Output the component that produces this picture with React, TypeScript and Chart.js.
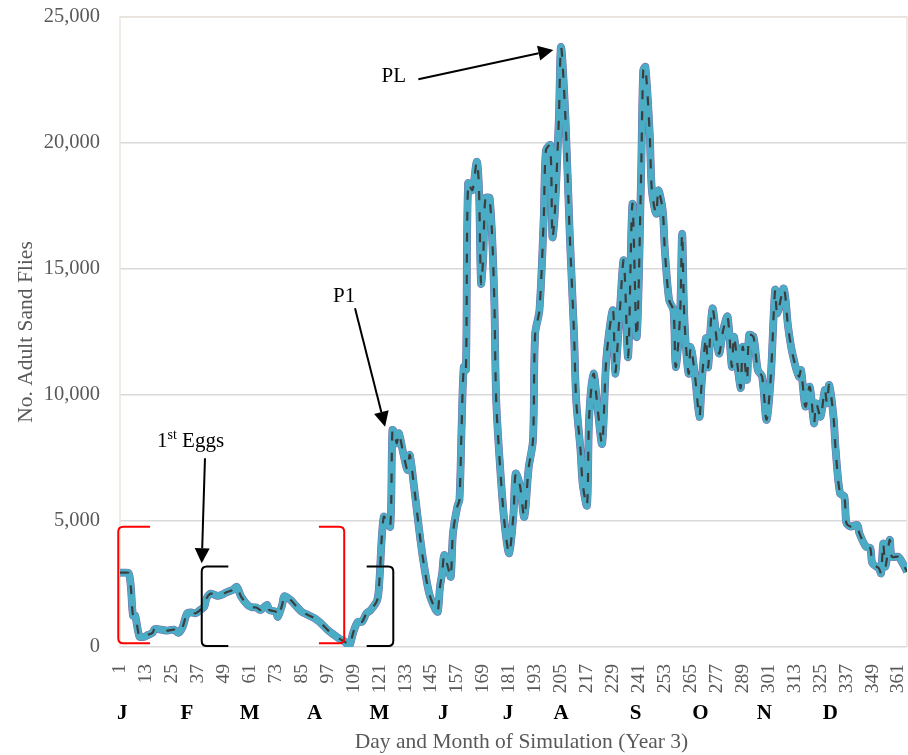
import React, { useEffect, useRef } from "react";
import { Chart, registerables } from "chart.js";

Chart.register(...registerables);

// ---- data ----
const days = [
  1, 3, 5, 6, 7, 8, 10, 12, 14, 16, 17, 20, 23, 26, 28, 30, 32, 34, 36, 38, 40, 41, 43, 46, 48, 50,
  53, 55, 57, 60, 62, 64, 66, 69, 70, 73, 74, 76, 77, 80, 82, 85, 88, 91, 94, 97, 100, 103, 105, 107,
  109, 111, 113, 115, 117, 120, 121, 122, 123, 124, 126, 127, 128, 129, 130, 132, 134, 135, 137, 139,
  141, 144, 147, 148, 149, 150, 151, 153, 154, 155, 157, 158, 159, 160, 161, 162, 164, 166, 167, 168,
  169, 170, 172, 174, 175, 177, 179, 181, 183, 184, 186, 188, 190, 192, 193, 195, 197, 198, 200, 201,
  202, 204, 205, 207, 209, 211, 212, 214, 215, 217, 218, 220, 222, 224, 226, 229, 230, 232, 234, 236,
  238, 240, 242, 243, 244, 246, 247, 249, 250, 252, 253, 255, 257, 258, 260, 261, 262, 264, 265, 267,
  269, 270, 272, 273, 275, 278, 280, 282, 284, 285, 288, 289, 291, 292, 294, 296, 298, 300, 302, 304,
  305, 308, 310, 312, 315, 316, 318, 320, 322, 323, 325, 327, 328, 329, 331, 332, 334, 336, 337, 339,
  342, 343, 346, 348, 349, 352, 353, 354, 355, 357, 358, 361, 363, 365,
];
const adults = [
  2950, 2950, 2930, 2400, 1250, 1250, 420, 400, 480, 560, 710, 690, 650, 690, 560, 800, 1330, 1370, 1340, 1460, 1600, 1930, 2120, 2030, 2070, 2160,
  2260, 2390, 2000, 1670, 1580, 1570, 1470, 1670, 1470, 1400, 1200, 1670, 2020, 1860, 1670, 1400, 1270, 1140, 940, 680, 480, 300, 210, 40,
  610, 1000, 1000, 1340, 1470, 1870, 2660, 4250, 5170, 5040, 4780, 8610, 8480, 8080, 8480, 7690, 7020, 7620, 6360, 4910,
  3580, 2130, 1470, 1400, 2390, 2920, 3650, 3060, 2790, 4510, 5570, 5830, 8740, 11120, 11000, 18400, 18130, 19260, 18270, 14430,
  15490, 17800, 17800, 14170, 9800, 6890, 4780, 3720, 5300, 6880, 6400, 5160, 7100, 8200, 12430, 13360, 17060, 19710, 19910, 16270,
  17060, 21030, 23810, 21030, 16400, 12430, 9790, 7810, 6480, 5620, 9130, 10850, 9390, 8070, 11510, 13360, 10850, 13090, 15340, 11510,
  17590, 12300, 18650, 22880, 23020, 20370, 18120, 17190, 18120, 17330, 15740, 13760, 13360, 11110, 13090, 16400, 13090, 10850, 11900, 10710,
  9130, 10450, 12250, 11100, 13440, 11650, 12580, 13110, 11120, 12310, 10270, 11920, 10600, 12380, 12300, 10990, 10730, 9010, 10730, 14170,
  13240, 14230, 12710, 11650, 10730, 10990, 9540, 10330, 8880, 9670, 9140, 10200, 9670, 10400, 9140, 7820, 6100, 5970, 4910, 4780,
  4840, 4510, 3980, 3920, 3320, 3120, 2920, 4110, 3190, 4250, 3580, 3580, 3320, 2990,
];

const xTickDays = [1, 13, 25, 37, 49, 61, 73, 85, 97, 109, 121, 133, 145, 157, 169, 181, 193, 205, 217, 229, 241, 253, 265, 277, 289, 301, 313, 325, 337, 349, 361];
const yTickValues = [0, 5000, 10000, 15000, 20000, 25000];
const monthLetters = ["J", "F", "M", "A", "M", "J", "J", "A", "S", "O", "N", "D"];
const monthDays = [2, 32, 61, 91, 121, 150.5, 180.5, 205, 239.5, 269.5, 299, 329.5];

const xTitle = "Day and Month of Simulation (Year 3)";
const yTitle = "No. Adult Sand Flies";

// annotations in data coordinates: [edgeDay, armDay, topValue, bottomValue]
const redBrackets = [
  [0.2, 14.9, 4770, 150],
  [104.7, 93, 4770, 150],
];
const blackBrackets = [
  [38.8, 51.1, 3190, 40],
  [127.4, 115.1, 3190, 40],
];
// arrows: [fromDay, fromValue, toDay, toValue]
const arrows = [
  [40.3, 7490, 38.8, 3320],
  [109.7, 13440, 123.6, 8740],
  [139, 22530, 201.4, 23690],
];
// labels: [text, leftDay, baselineValue]
const labels: [string, number, number][] = [
  ["P1", 99.5, 13690],
  ["PL", 122, 22440],
];
const eggsLabel = { main: "1", sup: "st", rest: " Eggs", day: 18.1, value: 7940 };

const SERIF = "'Liberation Serif', 'Times New Roman', Times, serif";
const GREY = "#595959";

const annotPlugin = {
  id: "annot",
  beforeDatasetsDraw(chart: any) {
    const { ctx, chartArea } = chart;
    ctx.save();
    ctx.strokeStyle = "#ebe6dd";
    ctx.lineWidth = 1.5;
    ctx.beginPath();
    ctx.moveTo(chartArea.left, chartArea.bottom);
    ctx.lineTo(chartArea.left, chartArea.top);
    ctx.lineTo(chartArea.right, chartArea.top);
    ctx.lineTo(chartArea.right, chartArea.bottom);
    ctx.stroke();
    ctx.restore();
  },
  afterDatasetsDraw(chart: any) {
    const { ctx } = chart;
    const xs = chart.scales.x;
    const ys = chart.scales.y;
    const X = (v: number) => xs.getPixelForValue(v);
    const Y = (v: number) => ys.getPixelForValue(v);
    ctx.save();
    const bracket = (b: number[], color: string) => {
      const x = X(b[0]);
      const ax = X(b[1]);
      const t = Y(b[2]);
      const bt = Y(b[3]);
      const dir = ax > x ? 1 : -1;
      const r = 5;
      ctx.strokeStyle = color;
      ctx.lineWidth = 2;
      ctx.beginPath();
      ctx.moveTo(ax, t);
      ctx.lineTo(x + dir * r, t);
      ctx.quadraticCurveTo(x, t, x, t + r);
      ctx.lineTo(x, bt - r);
      ctx.quadraticCurveTo(x, bt, x + dir * r, bt);
      ctx.lineTo(ax, bt);
      ctx.stroke();
    };
    redBrackets.forEach((b) => bracket(b, "#ff0000"));
    blackBrackets.forEach((b) => bracket(b, "#000000"));

    arrows.forEach((a) => {
      const x1 = X(a[0]), y1 = Y(a[1]), x2 = X(a[2]), y2 = Y(a[3]);
      const ang = Math.atan2(y2 - y1, x2 - x1);
      const hl = 15, hw = 7.5;
      const bx = x2 - hl * Math.cos(ang), by = y2 - hl * Math.sin(ang);
      ctx.strokeStyle = "#000";
      ctx.lineWidth = 2;
      ctx.beginPath();
      ctx.moveTo(x1, y1);
      ctx.lineTo(bx, by);
      ctx.stroke();
      ctx.fillStyle = "#000";
      ctx.beginPath();
      ctx.moveTo(x2, y2);
      ctx.lineTo(bx + hw * Math.sin(ang), by - hw * Math.cos(ang));
      ctx.lineTo(bx - hw * Math.sin(ang), by + hw * Math.cos(ang));
      ctx.closePath();
      ctx.fill();
    });

    ctx.fillStyle = "#000";
    ctx.textBaseline = "alphabetic";
    ctx.textAlign = "left";
    ctx.font = `21px ${SERIF}`;
    labels.forEach((l) => ctx.fillText(l[0], X(l[1]), Y(l[2])));

    let ex = X(eggsLabel.day);
    const ey = Y(eggsLabel.value);
    ctx.font = `21px ${SERIF}`;
    ctx.fillText(eggsLabel.main, ex, ey);
    ex += ctx.measureText(eggsLabel.main).width;
    ctx.font = `14px ${SERIF}`;
    ctx.fillText(eggsLabel.sup, ex, ey - 8);
    ex += ctx.measureText(eggsLabel.sup).width;
    ctx.font = `21px ${SERIF}`;
    ctx.fillText(eggsLabel.rest, ex, ey);
    ctx.restore();
  },
  afterDraw(chart: any) {
    const { ctx, chartArea } = chart;
    const xs = chart.scales.x;
    ctx.save();
    ctx.fillStyle = "#000";
    ctx.font = `bold 21px ${SERIF}`;
    ctx.textAlign = "center";
    ctx.textBaseline = "middle";
    monthLetters.forEach((m, i) => ctx.fillText(m, xs.getPixelForValue(monthDays[i]), 714));

    ctx.fillStyle = GREY;
    ctx.font = `21.5px ${SERIF}`;
    ctx.fillText(xTitle, (chartArea.left + chartArea.right) / 2 + 8, 742);

    ctx.translate(26, (chartArea.top + chartArea.bottom) / 2);
    ctx.rotate(-Math.PI / 2);
    ctx.fillText(yTitle, 0, 0);
    ctx.restore();
  },
};

const zeroPadding = (scale: any) => {
  scale.paddingLeft = 0;
  scale.paddingRight = 0;
  scale.paddingTop = 0;
  scale.paddingBottom = 0;
};

export default function App() {
  const ref = useRef<HTMLCanvasElement | null>(null);
  useEffect(() => {
    if (!ref.current) return;
    const pts = days.map((d, i) => ({ x: d, y: adults[i] }));
    const chart = new Chart(ref.current, {
      type: "line",
      data: {
        datasets: [
          {
            label: "Mean",
            data: pts,
            borderColor: "#3d3d3d",
            borderWidth: 2.2,
            borderDash: [9, 12],
            pointRadius: 0,
            tension: 0.3,
            fill: false,
          },
          {
            label: "Run 5",
            data: pts,
            borderColor: "#4bacc6",
            borderWidth: 7,
            pointRadius: 0,
            tension: 0.3,
            fill: false,
          },
          {
            label: "Run 4",
            data: pts,
            borderColor: "#8064a2",
            borderWidth: 7.8,
            pointRadius: 0,
            tension: 0.3,
            fill: false,
          },
        ],
      },
      options: {
        responsive: false,
        animation: false,
        layout: { padding: { top: 17, right: 1, left: 0, bottom: 0 } },
        plugins: { legend: { display: false }, tooltip: { enabled: false }, title: { display: false } },
        scales: {
          x: {
            type: "linear",
            min: 1,
            max: 365,
            grid: { display: false },
            border: { display: false },
            afterBuildTicks: (scale: any) => {
              scale.ticks = xTickDays.map((v) => ({ value: v }));
            },
            afterFit: (scale: any) => {
              scale.height = 108;
              zeroPadding(scale);
            },
            ticks: {
              autoSkip: false,
              maxRotation: 90,
              minRotation: 90,
              padding: 9,
              color: GREY,
              font: { family: SERIF, size: 19.5 },
              callback: (v: any) => String(v),
            },
          },
          y: {
            min: 0,
            max: 25000,
            grid: { color: "#d9d9d9", lineWidth: 1.5, drawTicks: false },
            border: { display: false },
            afterBuildTicks: (scale: any) => {
              scale.ticks = yTickValues.map((v) => ({ value: v }));
            },
            afterFit: (scale: any) => {
              scale.width = 120;
              zeroPadding(scale);
            },
            ticks: {
              padding: 20,
              color: GREY,
              font: { family: SERIF, size: 20.5 },
              callback: (v: any) => Number(v).toLocaleString("en-US"),
            },
          },
        },
      },
      plugins: [annotPlugin],
    });
    return () => chart.destroy();
  }, []);
  return (
    <div style={{ position: "fixed", left: 0, top: 0, width: 908, height: 755, background: "#fff" }}>
      <canvas ref={ref} width={908} height={755} style={{ display: "block" }} />
    </div>
  );
}
